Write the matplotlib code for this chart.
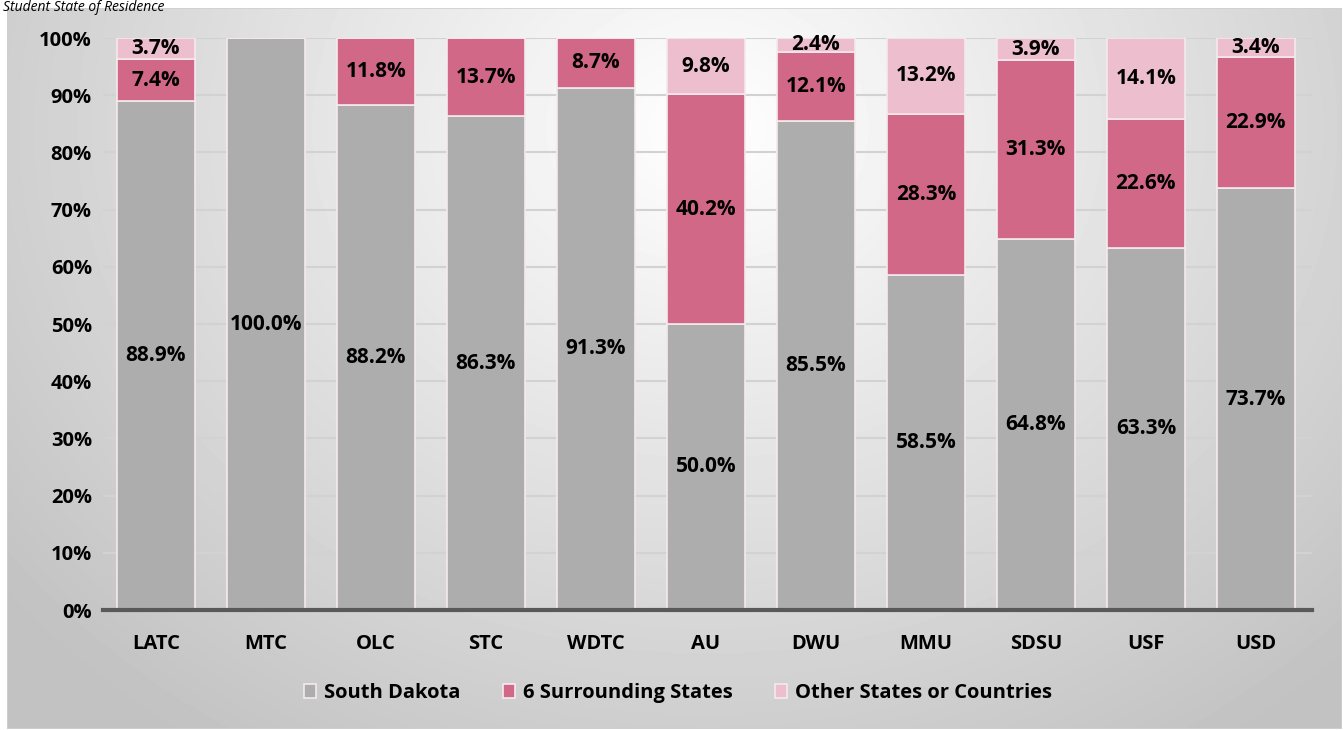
import numpy as np
import matplotlib.pyplot as plt
from matplotlib.patches import Rectangle

plt.rcParams['font.family'] = ['Open Sans', 'DejaVu Sans']

schools = ["LATC", "MTC", "OLC", "STC", "WDTC", "AU", "DWU", "MMU", "SDSU", "USF", "USD"]
south_dakota = [88.9, 100.0, 88.2, 86.3, 91.3, 50.0, 85.5, 58.5, 64.8, 63.3, 73.7]
surrounding = [7.4, 0.0, 11.8, 13.7, 8.7, 40.2, 12.1, 28.3, 31.3, 22.6, 22.9]
other = [3.7, 0.0, 0.0, 0.0, 0.0, 9.8, 2.4, 13.2, 3.9, 14.1, 3.4]

series = [
    ("South Dakota", south_dakota, "#adadad"),
    ("6 Surrounding States", surrounding, "#d26887"),
    ("Other States or Countries", other, "#ecbece"),
]

fs = 14.5

fig = plt.figure(figsize=(13.43, 7.30), dpi=100)

# chart area with radial grey gradient
bg = fig.add_axes([7 / 1343, 1 - 729 / 730, 1335 / 1343, 721 / 730], zorder=-5)
yy, xx = np.mgrid[0:721, 0:1335]
r = np.sqrt(((xx - 700) / 900.0) ** 2 + ((yy - 120) / 750.0) ** 2)
shade = np.clip(1.0 - 0.24 * r, 0.76, 1.0)
bg.imshow(shade, cmap="gray", vmin=0, vmax=1, aspect="auto", interpolation="bilinear")
bg.set_axis_off()
bg.add_patch(Rectangle((0, 0), 1, 1, transform=bg.transAxes, fill=False,
                       edgecolor="#d0d0d0", linewidth=1.2))

ax = fig.add_axes([103 / 1343, 1 - 610 / 730, (1312 - 103) / 1343, (610 - 38) / 730])
ax.set_facecolor("none")

x = np.arange(len(schools))
bottom = np.zeros(len(schools))
handles = []
for name, vals, color in series:
    vals = np.array(vals)
    bars = ax.bar(x, vals, 0.71, bottom=bottom, color=color, edgecolor="#f4eaee",
                  linewidth=1.2, label=name, zorder=3)
    handles.append(bars)
    for xi, b, v in zip(x, bottom, vals):
        if v > 0:
            ax.text(xi, b + v / 2, f"{v:.1f}%", ha="center", va="center",
                    fontsize=15, fontweight="bold", color="black", zorder=4)
    bottom += vals

ax.set_xlim(-0.48, 10.51)
ax.set_ylim(0, 100)
ax.set_yticks(np.arange(0, 101, 10))
ax.set_yticklabels([f"{t}%" for t in range(0, 101, 10)], fontsize=fs, fontweight="bold")
ax.set_xticks(x)
ax.set_xticklabels(schools, fontsize=fs, fontweight="bold")
ax.tick_params(axis="both", length=0)
ax.tick_params(axis="y", pad=8)
ax.tick_params(axis="x", pad=17)
ax.yaxis.grid(True, color="#d2d2d2", linewidth=1.5, zorder=0)
ax.set_axisbelow(True)
for side in ["top", "right", "left"]:
    ax.spines[side].set_visible(False)
ax.spines["bottom"].set_color("#595959")
ax.spines["bottom"].set_linewidth(3)
ax.spines["bottom"].set_zorder(5)

fig.legend(handles=handles, loc="center", bbox_to_anchor=(0.505, 1 - 693 / 730), ncol=3,
           frameon=False, handlelength=0.6, handleheight=0.7, handletextpad=0.4,
           columnspacing=2.1, prop={"size": fs, "weight": "bold"})

fig.text(0.002, 1.0, "Student State of Residence", ha="left", va="top",
         fontsize=10, fontstyle="italic")

fig.savefig("out.png", dpi=100)
